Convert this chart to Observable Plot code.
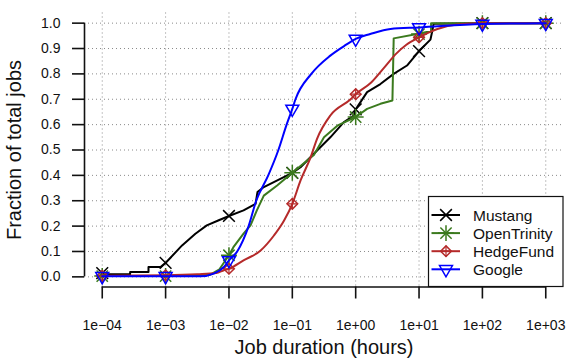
<!DOCTYPE html>
<html><head><meta charset="utf-8">
<script src="https://cdn.jsdelivr.net/npm/d3@7"></script>
<script src="https://cdn.jsdelivr.net/npm/@observablehq/plot@0.6"></script>
<style>
body{margin:0;background:#fff;}
#wrap{position:relative;width:575px;height:359px;overflow:hidden;}
#wrap svg{display:block;}
#legend{position:absolute;left:0;top:0;pointer-events:none;}
</style></head><body><div id="wrap"></div>
<script>
// ---- data ----
const decadeExp = [-4, -3, -2, -1, 0, 1, 2, 3];
const xTickLabels = ["1e\u221204", "1e\u221203", "1e\u221202", "1e\u221201", "1e+00", "1e+01", "1e+02", "1e+03"];
const yTicks = [0, 0.1, 0.2, 0.3, 0.4, 0.5, 0.6, 0.7, 0.8, 0.9, 1.0];
const seriesNames = ["Mustang", "OpenTrinity", "HedgeFund", "Google"];
const seriesColors = ["#000000", "#3b7a1e", "#b52a2a", "#0000ff"];

// CDF curves: log10(hours) and fraction
const mustangExp  = [-4, -3.56, -3.56, -3.27, -3.27, -3.08, -3.0, -2.74, -2.53, -2.35, -2.17, -2.0, -1.77, -1.58, -1.55, -1.45, -1.0, -0.87, -0.66, -0.4, -0.19, -0.03, 0.0, 0.18, 0.39, 0.6, 0.81, 1.0, 1.18, 1.21, 1.23, 2, 3];
const mustangFrac = [0.01, 0.01, 0.019, 0.019, 0.039, 0.039, 0.055, 0.124, 0.17, 0.203, 0.222, 0.24, 0.262, 0.288, 0.334, 0.354, 0.41, 0.432, 0.485, 0.55, 0.609, 0.636, 0.66, 0.728, 0.76, 0.8, 0.833, 0.89, 0.935, 0.97, 0.998, 1.0, 1.0];

const openTrinityExp  = [-4, -3, -2.5, -2.3, -2.15, -2.0, -1.93, -1.77, -1.66, -1.56, -1.45, -1.24, -1.0, -0.66, -0.5, -0.29, 0.0, 0.18, 0.39, 0.58, 0.6, 0.97, 1.12, 1.19, 1.19, 2, 3];
const openTrinityFrac = [0.003, 0.003, 0.004, 0.008, 0.03, 0.085, 0.117, 0.17, 0.203, 0.262, 0.32, 0.36, 0.41, 0.48, 0.55, 0.596, 0.63, 0.662, 0.682, 0.695, 0.94, 0.957, 0.965, 0.966, 1.0, 1.0, 1.0];

const hedgeFundExp  = [-4, -3, -2.5, -2.2, -2.08, -2.0, -1.77, -1.5, -1.29, -1.13, -1.0, -0.87, -0.71, -0.61, -0.4, -0.08, 0.0, 0.24, 0.45, 0.64, 0.8, 1.0, 1.29, 1.6, 2, 3];
const hedgeFundFrac = [0.004, 0.006, 0.01, 0.015, 0.026, 0.032, 0.065, 0.104, 0.163, 0.222, 0.288, 0.38, 0.472, 0.544, 0.636, 0.70, 0.72, 0.765, 0.825, 0.88, 0.915, 0.944, 0.977, 0.995, 1.0, 1.0];

const googleExp  = [-4, -3, -2.45, -2.24, -2.08, -2.0, -1.87, -1.69, -1.57, -1.38, -1.22, -1.09, -1.0, -0.95, -0.7, -0.4, -0.15, 0.0, 0.23, 0.55, 1.0, 2, 3];
const googleFrac = [0.002, 0.002, 0.002, 0.013, 0.039, 0.065, 0.1, 0.2, 0.3, 0.4, 0.5, 0.6, 0.662, 0.7, 0.8, 0.872, 0.915, 0.938, 0.957, 0.977, 0.983, 0.997, 1.0];

// marker values at each decade
const mustangMarks     = [0.015, 0.055, 0.24, 0.41, 0.66, 0.89, 1.0, 1.0];
const openTrinityMarks = [0.003, 0.003, 0.085, 0.41, 0.63, 0.957, 1.0, 1.0];
const hedgeFundMarks   = [0.004, 0.006, 0.032, 0.288, 0.72, 0.944, 1.0, 1.0];
const googleMarks      = [0.002, 0.002, 0.065, 0.662, 0.938, 0.983, 0.997, 1.0];

// ---- build ----
const FONT = "'Liberation Sans', Arial, Helvetica, sans-serif";
const toRows = (exps, fracs) => exps.map((e, i) => ({hours: 10 ** e, frac: fracs[i]}));
const markRows = (vals) => decadeExp.map((e, i) => ({hours: 10 ** e, frac: vals[i]}));
const xTicks = decadeExp.map(e => 10 ** e);
const xPad = 0.04 * (decadeExp[decadeExp.length - 1] - decadeExp[0]);
const xDomain = [10 ** (decadeExp[0] - xPad), 10 ** (decadeExp[decadeExp.length - 1] + xPad)];
const yDomain = [-0.04, 1.04];
const fmtX = d => xTickLabels[decadeExp.indexOf(Math.round(Math.log10(d)))];

const lines = [
  {rows: toRows(mustangExp, mustangFrac), curve: "linear"},
  {rows: toRows(openTrinityExp, openTrinityFrac), curve: "linear"},
  {rows: toRows(hedgeFundExp, hedgeFundFrac), curve: "monotone-x"},
  {rows: toRows(googleExp, googleFrac), curve: "monotone-x"}
];
const markSets = [mustangMarks, openTrinityMarks, hedgeFundMarks, googleMarks].map(markRows);

const R = 4.8, SW = 1.5;
function markerMarks(i, data) {
  const c = seriesColors[i];
  const base = {x: "hours", y: "frac", stroke: c, strokeWidth: SW, fill: "none"};
  if (i === 0) return [Plot.dot(data, {...base, symbol: "times", r: R + 0.6})];
  if (i === 1) return [Plot.dot(data, {...base, symbol: "plus", r: R + 0.4}), Plot.dot(data, {...base, symbol: "times", r: R + 0.4})];
  if (i === 2) return [Plot.dot(data, {...base, symbol: "diamond2", r: R}), Plot.dot(data, {...base, symbol: "plus", r: R - 1.2, strokeWidth: 1.2})];
  return [Plot.dot(data, {...base, symbol: "triangle", r: R, rotate: 180})];
}

const marks = [
  Plot.gridX(xTicks, {stroke: "#8a8a8a", strokeOpacity: 1, strokeDasharray: "1,3", strokeWidth: 1}),
  Plot.gridY(yTicks, {stroke: "#8a8a8a", strokeOpacity: 1, strokeDasharray: "1,3", strokeWidth: 1}),
  Plot.ruleY([yDomain[0]], {x1: xTicks[0], x2: xTicks[xTicks.length - 1], stroke: "#111", strokeWidth: 1.6}),
  Plot.ruleX([xDomain[0]], {y1: yTicks[0], y2: yTicks[yTicks.length - 1], stroke: "#111", strokeWidth: 1.6}),
  Plot.axisX(xTicks, {anchor: "bottom", tickSize: 12, tickPadding: 21.5, tickFormat: fmtX, fontSize: 14, strokeWidth: 1.6, stroke: "#111", fill: "#111", label: null}),
  Plot.axisY(yTicks, {anchor: "left", tickSize: 12, tickPadding: 12, tickFormat: d => d.toFixed(1), fontSize: 14, strokeWidth: 1.6, stroke: "#111", fill: "#111", label: null}),
  Plot.text(["Job duration (hours)"], {frameAnchor: "bottom", dy: 60.5, lineAnchor: "middle", textAnchor: "middle", fontSize: 20, fill: "#111"}),
  Plot.text(["Fraction of total jobs"], {frameAnchor: "left", dx: -70, rotate: -90, lineAnchor: "middle", textAnchor: "middle", fontSize: 20, fill: "#111"})
];
lines.forEach((l, i) => {
  marks.push(Plot.line(l.rows, {x: "hours", y: "frac", stroke: seriesColors[i], strokeWidth: 2, curve: l.curve}));
  marks.push(...markerMarks(i, markSets[i]));
});

const chart = Plot.plot({
  width: 575, height: 359,
  marginLeft: 84, marginRight: 12, marginTop: 12.5, marginBottom: 72.5,
  x: {type: "log", domain: xDomain, label: null},
  y: {domain: yDomain, label: null},
  style: {fontFamily: FONT, background: "white", color: "#111"},
  marks
});
const wrap = document.getElementById("wrap");
wrap.appendChild(chart);

// ---- legend (inside plot, bottom-right corner) ----
const lg = d3.select(wrap).append("svg").attr("id", "legend").attr("width", 575).attr("height", 359)
  .style("font-family", FONT);
const box = {x: 428.5, y: 196.5, w: 134.5, h: 90};
lg.append("rect").attr("x", box.x).attr("y", box.y).attr("width", box.w).attr("height", box.h)
  .attr("fill", "white").attr("stroke", "#111").attr("stroke-width", 1.2);
const symSize = Math.PI * R * R;
seriesNames.forEach((name, i) => {
  const cy = box.y + 18.5 + i * 18.1;
  const g = lg.append("g").attr("transform", `translate(0,${cy})`);
  g.append("line").attr("x1", box.x + 3).attr("x2", box.x + 31.5).attr("y1", 0).attr("y2", 0)
    .attr("stroke", seriesColors[i]).attr("stroke-width", 2);
  const mg = g.append("g").attr("transform", `translate(${box.x + 17.5},0)`)
    .attr("fill", "none").attr("stroke", seriesColors[i]).attr("stroke-width", SW);
  if (i === 0) mg.append("path").attr("d", d3.symbol(d3.symbolTimes, Math.PI * (R + 0.6) ** 2)());
  if (i === 1) { mg.append("path").attr("d", d3.symbol(d3.symbolPlus, Math.PI * (R + 0.4) ** 2)()); mg.append("path").attr("d", d3.symbol(d3.symbolTimes, Math.PI * (R + 0.4) ** 2)()); }
  if (i === 2) { mg.append("path").attr("d", d3.symbol(d3.symbolDiamond2, symSize)()); mg.append("path").attr("d", d3.symbol(d3.symbolPlus, Math.PI * (R - 1.2) ** 2)()).attr("stroke-width", 1.2); }
  if (i === 3) mg.append("path").attr("d", d3.symbol(d3.symbolTriangle, symSize)()).attr("transform", "rotate(180)");
  g.append("text").attr("x", box.x + 44.5).attr("y", 0).attr("dy", "0.36em")
    .attr("font-size", 15.5).attr("fill", "#111").text(name);
});
</script></body></html>
